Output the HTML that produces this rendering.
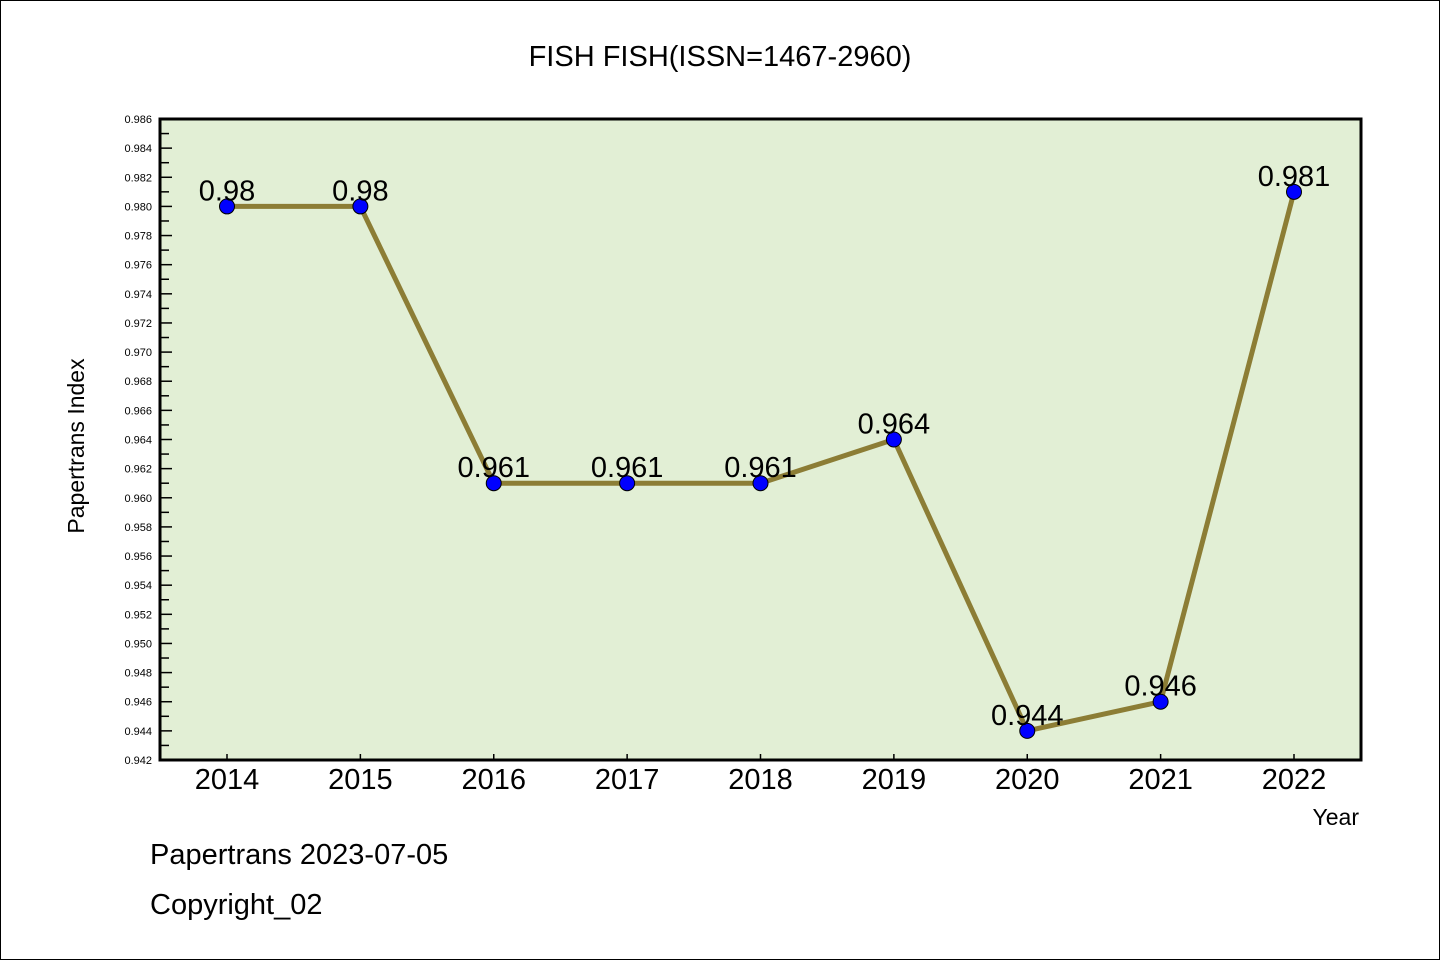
<!DOCTYPE html>
<html><head><meta charset="utf-8"><style>
html,body{margin:0;padding:0;background:#fff}
svg{display:block}
text{font-family:"Liberation Sans","WenQuanYi Zen Hei",sans-serif}
</style></head><body>
<svg id="chart" width="1440" height="960" xmlns="http://www.w3.org/2000/svg">
<rect x="0.5" y="0.5" width="1439" height="959" fill="#fff" stroke="#000" stroke-width="1"/>
<text x="720" y="66" font-size="29" text-anchor="middle" font-family="'WenQuanYi Zen Hei','Liberation Mono',monospace">FISH FISH(ISSN=1467-2960)</text>
<rect x="160" y="119" width="1201" height="641" fill="#e2efd5"/>
<g id="yaxis"></g>
<g id="xaxis"></g>
<g id="series"></g>
<rect x="160" y="119" width="1201" height="641" fill="none" stroke="#000" stroke-width="3"/>
<text transform="translate(84,446) rotate(-90)" font-size="23" text-anchor="middle" font-family="'WenQuanYi Zen Hei','Liberation Mono',monospace">Papertrans Index</text>
<text x="1359" y="825" font-size="23" text-anchor="end" font-family="'WenQuanYi Zen Hei','Liberation Mono',monospace">Year</text>
<text x="150" y="864" font-size="29" font-family="'WenQuanYi Zen Hei','Liberation Mono',monospace">Papertrans 2023-07-05</text>
<text x="150" y="914" font-size="29" font-family="'WenQuanYi Zen Hei','Liberation Mono',monospace">Copyright_02</text>
</svg>
<script>
const categories = ["2014","2015","2016","2017","2018","2019","2020","2021","2022"];
const values = [0.98,0.98,0.961,0.961,0.961,0.964,0.944,0.946,0.981];
const valueLabels = ["0.98","0.98","0.961","0.961","0.961","0.964","0.944","0.946","0.981"];
const yMin = 0.942, yMax = 0.986, yStep = 0.002;

const NS = "http://www.w3.org/2000/svg";
const L=160,R=1361,T=119,B=760;
function yPos(v){return B-(v-yMin)/(yMax-yMin)*(B-T);}
function xPos(i){return 227+i*(1294-227)/(categories.length-1);}
function mk(tag,attrs,parent,txt){const e=document.createElementNS(NS,tag);for(const k in attrs)e.setAttribute(k,attrs[k]);if(txt!==undefined)e.textContent=txt;parent.appendChild(e);return e;}

const ya=document.getElementById('yaxis');
const n=Math.round((yMax-yMin)/yStep);
for(let k=0;k<=n;k++){
  const v=yMin+k*yStep, y=yPos(v);
  const t=mk('line',{x1:L,x2:L+12,y1:y,y2:y,stroke:'#000','stroke-width':1.5},ya);
  
  
  const lb=mk('text',{x:152,y:y+4,'font-size':11,'text-anchor':'end'},ya,v.toFixed(3));
  
  
  if(k<n){const ym=yPos(v+yStep/2);
    const m=mk('line',{x1:L,x2:L+9,y1:ym,y2:ym,stroke:'#000','stroke-width':1.5},ya);
    
    }
}
const xa=document.getElementById('xaxis');
categories.forEach((c,i)=>{
  const x=xPos(i);
  const t=mk('line',{x1:x,x2:x,y1:B,y2:B-6,stroke:'#000','stroke-width':1.5},xa);
  
  
  const lb=mk('text',{x:x,y:789,'font-size':29,'text-anchor':'middle'},xa,c);
  
  
});
const s=document.getElementById('series');
const pts=values.map((v,i)=>xPos(i)+','+yPos(v)).join(' ');
const pl=mk('polyline',{points:pts,fill:'none',stroke:'#8c7d35','stroke-width':5,'stroke-linejoin':'round'},s);


values.forEach((v,i)=>{
  const c=mk('circle',{cx:xPos(i),cy:yPos(v),r:7.5,fill:'#0000ff',stroke:'#000','stroke-width':1},s);
  
  
  const lb=mk('text',{x:xPos(i),y:yPos(v)-6,'font-size':29,'text-anchor':'middle','font-family':"'WenQuanYi Zen Hei','Liberation Mono',monospace"},s,valueLabels[i]);
  
  
});
</script>
</body></html>
